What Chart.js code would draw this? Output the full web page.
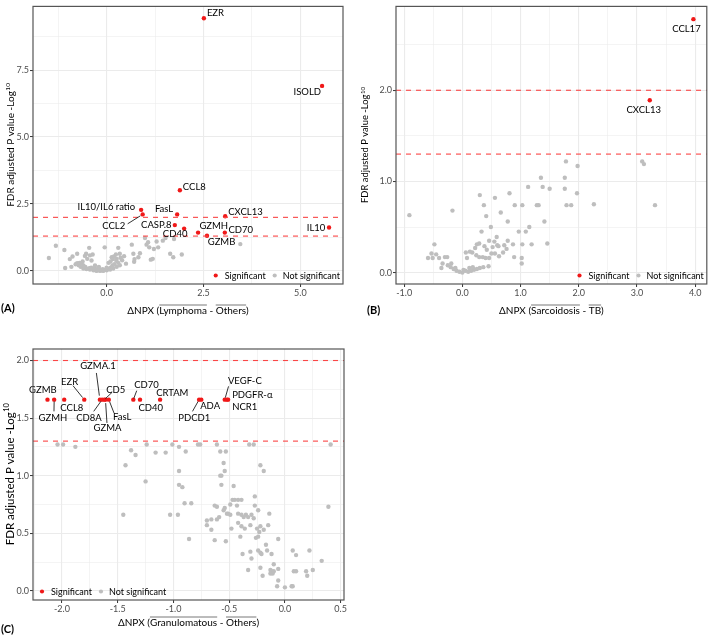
<!DOCTYPE html>
<html>
<head>
<meta charset="utf-8">
<script src="https://cdn.jsdelivr.net/npm/chart.js@4.4.1/dist/chart.umd.min.js"></script>
<style>
  body { margin: 0; background: #fff; width: 709px; height: 636px; position: relative; overflow: hidden; }
  canvas { position: absolute; }
  .tag { position: absolute; font: bold 11px Lato, sans-serif; color: #000; }
</style>
</head>
<body>
<canvas id="chartA" width="355" height="320" style="left:0;top:0"></canvas>
<canvas id="chartB" width="354" height="320" style="left:355px;top:0"></canvas>
<canvas id="chartC" width="355" height="316" style="left:0;top:320px"></canvas>
<div class="tag" style="left:1px;top:301px">(A)</div>
<div class="tag" style="left:367px;top:303px">(B)</div>
<div class="tag" style="left:1px;top:622px">(C)</div>
<script>
// (A) Lymphoma vs Others
const aSigNames = ['EZR', 'ISOLD', 'CCL8', 'IL10/IL6 ratio', 'CCL2', 'FasL', 'CXCL13', 'CASP.8', 'CD40', 'GZMH', 'GZMB', 'CD70', 'IL10'];
const aSigX = [2.51, 5.56, 1.89, 0.89, 0.93, 1.82, 3.06, 1.76, 2.00, 2.36, 2.59, 3.05, 5.74];
const aSigY = [9.44, 6.91, 3.01, 2.28, 2.11, 2.11, 2.04, 1.71, 1.58, 1.43, 1.31, 1.43, 1.62];
const aOtherX = [-1.49, -1.31, -1.09, -1.07, -0.95, -0.88, -0.91, -0.76, -0.76, -0.72, -0.67, -0.60, -0.56, -0.53, -0.50,
  -0.45, -0.43, -0.39, -0.36, -0.52, -0.43, -0.34, -0.26, -0.17, -0.09, 0.00, 0.09, 0.17, 0.26, 0.34, -0.05, 0.13, 0.16,
  0.19, 0.24, 0.26, 0.30, 0.34, 0.36, 0.50, 0.65, 0.69, 0.72, 0.71, 0.82, 0.86, 0.99, 1.03, 1.07, 1.10, 1.14, 1.19, 1.22,
  1.29, 1.33, 1.45, 1.52, 1.64, 1.72, 1.74, 1.94, 3.45, -0.60, -0.55, -0.45, -0.40, -0.35, -0.30, -0.25, -0.20, -0.15,
  -0.10, -0.05, 0.05, 0.10, 0.15, 0.20, 0.05, 0.10, -0.30, -0.20, 0.00, -0.70, -0.65, 0.30, 0.25, -0.80, -0.62, 0.40, 0.45];
const aOtherY = [0.48, 0.94, 0.78, 0.11, 0.44, 0.54, 0.15, 0.64, 0.29, 0.21, 0.15, 0.09, 0.56, 0.64, 0.45,
  0.86, 0.58, 0.39, 0.61, 0.07, 0.05, 0.02, 0.00, 0.00, 0.00, 0.02, 0.05, 0.09, 0.15, 0.21, 0.88, 0.51, 0.44,
  0.54, 0.61, 0.45, 0.86, 0.64, 0.49, 0.27, 0.98, 0.64, 0.44, 0.34, 0.51, 0.66, 1.23, 0.98, 1.07, 0.88, 0.42, 0.45, 0.82,
  1.10, 0.88, 1.13, 1.23, 0.64, 0.51, 1.19, 0.61, 1.00, 0.20, 0.15, 0.10, 0.12, 0.08, 0.10, 0.05, 0.08, 0.04,
  0.06, 0.03, 0.07, 0.12, 0.20, 0.25, 0.30, 0.35, 0.20, 0.15, 0.12, 0.30, 0.28, 0.30, 0.38, 0.25, 0.35, 0.40, 0.55];
const aXLabels = [0, 2.5, 5];
const aXGrid = [-1.25, 0, 1.25, 2.5, 3.75, 5];
const aYLabels = [0, 2.5, 5, 7.5];
const aYGrid = [0, 1.25, 2.5, 3.75, 5, 6.25, 7.5, 8.75];

// (B) Sarcoidosis vs TB
const bSigNames = ['CCL17', 'CXCL13'];
const bSigX = [3.97, 3.22];
const bSigY = [2.78, 1.89];
const bOtherX = [-0.91, -0.17, 0.30, 0.37, 0.41, 0.56, 0.66, 0.81, 0.78, 0.90, 1.03, 1.13, 1.28, 1.31, 1.35, 1.38, 1.41,
  1.50, 1.76, 1.76, 1.78, 1.79, 1.87, 1.97, 1.98, 2.26, 3.09, 3.12, 3.31, 0.49, 0.33, 0.59, 0.97, 1.09, 1.15, 1.19, 1.03,
  1.46, 0.87, 0.72, 0.76, 0.78, 0.89, 1.02, 1.02, 0.46, 0.55, 0.62, 0.25, 0.29, 0.38, 0.22, 0.24, 0.17, 0.13, 0.06, 0.08,
  0.29, 0.35, 0.46, 0.56, 0.63, 0.45, 0.36, 0.30, 0.25, 0.20, 0.15, 0.10, 0.05, 0.00, -0.05, -0.10, -0.15, -0.20, -0.25,
  -0.30, -0.26, -0.59, -0.51, -0.53, -0.48, -0.45, -0.40, -0.34, -0.19, -0.36, -0.12, 0.02, 0.12, 0.18, 0.40, 0.42, 0.52,
  0.50, 0.60, 0.70];
const bOtherY = [0.63, 0.68, 0.85, 0.74, 0.62, 0.82, 0.66, 0.87, 0.56, 0.74, 0.74, 0.94, 0.74, 0.74, 1.04, 0.94, 0.56,
  0.92, 0.92, 1.04, 1.22, 0.74, 0.74, 0.87, 1.17, 0.75, 1.22, 1.19, 0.74, 0.50, 0.45, 0.39, 0.45, 0.45, 0.50, 0.31, 0.31,
  0.32, 0.31, 0.30, 0.26, 0.35, 0.17, 0.16, 0.10, 0.35, 0.34, 0.29, 0.31, 0.32, 0.29, 0.27, 0.19, 0.22, 0.23, 0.22, 0.16,
  0.17, 0.17, 0.16, 0.21, 0.18, 0.07, 0.06, 0.05, 0.04, 0.03, 0.02, 0.01, 0.02, 0.00, 0.01, 0.02, 0.04, 0.06, 0.08,
  0.17, 0.17, 0.16, 0.16, 0.21, 0.31, 0.20, 0.16, 0.10, 0.10, 0.05, 0.05, 0.03, 0.05, 0.06, 0.16, 0.25, 0.28,
  0.21, 0.30, 0.22];
const bXLabels = [-1, 0, 1, 2, 3, 4];
const bXGrid = [-1, -0.5, 0, 0.5, 1, 1.5, 2, 2.5, 3, 3.5, 4];
const bYLabels = [0, 1, 2];
const bYGrid = [0, 0.5, 1, 1.5, 2, 2.5];

// (C) Granulomatous vs Others
const cSigNames = ['GZMB', 'GZMH', 'CCL8', 'EZR', 'GZMA.1', 'CD8A', 'CD5', 'GZMA', 'FasL', 'CD70', 'CD40', 'CRTAM',
  'PDCD1', 'ADA', 'VEGF-C', 'PDGFR-α', 'NCR1'];
const cSigX = [-2.13, -2.07, -1.98, -1.80, -1.66, -1.64, -1.62, -1.61, -1.58, -1.36, -1.30, -1.12, -0.77, -0.75, -0.54, -0.52, -0.51];
const cSigY = [1.66, 1.66, 1.66, 1.66, 1.66, 1.66, 1.66, 1.66, 1.66, 1.66, 1.66, 1.66, 1.66, 1.66, 1.66, 1.66, 1.66];
const cOtherX = [-2.04, -1.99, -1.88, -1.43, -1.45, -1.38, -1.34, -1.25, -1.24, -1.16, -1.07, -1.03, -0.96, -1.01, -0.95,
  -0.89, -0.95, -0.95, -0.92, -0.90, -0.84, -0.86, -0.78, -0.76, -0.61, -0.58, -0.53, -0.55, -0.54, -0.58, -0.57, -0.57,
  -0.46, -0.32, -0.28, -0.22, -0.19, -0.27, 0.39, 0.41, -0.70, -0.70, -0.66, -0.61, -0.59, -0.63, -0.61, -0.55, -0.52,
  -0.54, -0.49, -0.47, -0.45, -0.42, -0.39, -0.49, -0.48, -0.51, -0.43, -0.42, -0.39, -0.37, -0.35, -0.33, -0.30, -0.28,
  -0.27, -0.24, -0.31, -0.36, -0.39, -0.42, -0.40, -0.25, -0.23, -0.22, -0.19, -0.24, -0.26, -0.14, -0.15, -0.06, -0.63,
  -0.53, -0.66, -0.38, -0.31, -0.30, -0.33, -0.24, -0.22, -0.21, -0.17, -0.16, -0.12, -0.10, -0.13, -0.12, -0.10, -0.06,
  -0.13, -0.11, -0.22, -0.20, -0.06, -0.07, 0.00, 0.07, 0.07, 0.10, 0.22, 0.19, 0.20, 0.25, 0.33, 0.08, 0.10, 0.06];
const cOtherY = [1.27, 1.27, 1.25, 1.09, 0.66, 1.22, 1.18, 0.95, 1.27, 1.20, 1.20, 0.66, 0.66, 1.27, 1.25,
  1.21, 1.04, 0.92, 0.90, 0.76, 0.76, 0.45, 1.27, 1.27, 1.27, 1.21, 1.21, 1.11, 1.04, 1.00, 1.00, 0.92,
  0.91, 1.27, 1.27, 1.09, 1.04, 0.82, 0.73, 1.27, 0.61, 0.57, 0.62, 0.62, 0.64, 0.74, 0.73, 0.70, 0.67,
  0.72, 0.75, 0.79, 0.79, 0.79, 0.79, 0.66, 0.54, 0.67, 0.74, 0.67, 0.66, 0.64, 0.66, 0.64, 0.66, 0.63,
  0.74, 0.70, 0.57, 0.54, 0.56, 0.59, 0.47, 0.54, 0.51, 0.56, 0.53, 0.47, 0.46, 0.67, 0.57, 0.45, 0.44,
  0.43, 0.53, 0.32, 0.34, 0.28, 0.18, 0.35, 0.33, 0.32, 0.40, 0.35, 0.32, 0.23, 0.18, 0.17, 0.17, 0.19,
  0.15, 0.15, 0.20, 0.13, 0.09, 0.04, 0.03, 0.04, 0.35, 0.31, 0.35, 0.17, 0.13, 0.18, 0.26, 0.17, 0.17, 0.04];
const cXLabels = [-2, -1.5, -1, -0.5, 0, 0.5];
const cXGrid = [-2.25, -2, -1.75, -1.5, -1.25, -1, -0.75, -0.5, -0.25, 0, 0.25, 0.5];
const cYLabels = [0, 0.5, 1, 1.5, 2];
const cYGrid = [0, 0.25, 0.5, 0.75, 1, 1.25, 1.5, 1.75, 2];

// significance cut-offs (-log10 of 0.01 and 0.05)
const cutoffs = [2, 1.3];
const legendLabels = ['Significant', 'Not significant'];

const RED = '#f01818';
const GREY = '#bebebe';
const CUT = 'rgb(250,70,70)';

// where each gene label sits, relative to its point: [dx, dy, align, leaderDx, leaderDy]
const placeA = {
  'EZR': [3, -5, 'left'], 'ISOLD': [-1, 6.5, 'right'], 'CCL8': [3, -3.5, 'left'],
  'IL10/IL6 ratio': [-6, -3, 'right'], 'CCL2': [-17.5, 11.7, 'right', -15, 9.4],
  'FasL': [-4, -5.6, 'right'], 'CXCL13': [3, -4.6, 'left'], 'CASP.8': [-3.3, 0, 'right'],
  'CD40': [3.3, 5.6, 'right'], 'GZMH': [1.3, -6.7, 'left'], 'GZMB': [0.7, 6.3, 'left'],
  'CD70': [3.6, -3, 'left'], 'IL10': [-3.7, 0, 'right']
};
const placeB = { 'CCL17': [-7, 10, 'center'], 'CXCL13': [-6, 10, 'center'] };
const placeC = {
  'GZMB': [-4.6, -9.3, 'center'], 'GZMH': [-1.2, 18.3, 'center', -0.2, 11.7],
  'CCL8': [7.6, 8.7, 'center'], 'EZR': [-14.6, -17.3, 'center', -11.3, -14],
  'GZMA.1': [-1.9, -33.3, 'center', -3.5, -26.7], 'CD8A': [-13.2, 18.3, 'center', -8.4, 11.7],
  'CD5': [11.4, -9.3, 'center', 7.7, -7.3], 'GZMA': [2, 28, 'center', 1.5, 23.3],
  'FasL': [13.4, 17.3, 'center', 5.2, 13.3], 'CD70': [13.1, -15, 'center', 3.4, -9],
  'CD40': [10.7, 8.7, 'center'], 'CRTAM': [12.2, -6.7, 'center'],
  'PDCD1': [-4.8, 18.3, 'center', -6.6, 11.7], 'ADA': [8.8, 6.7, 'center'],
  'VEGF-C': [20.1, -19, 'center', 3.8, -13.3], 'PDGFR-α': [5.2, -5, 'left'], 'NCR1': [4.1, 7.3, 'left']
};

function pts(xs, ys, names) {
  return xs.map((x, i) => ({ x: x, y: ys[i], name: names ? names[i] : null }));
}

function near(list, v) {
  return list.some(t => Math.abs(t - v) < 1e-9);
}

function axis(min, max, grid, labels, size) {
  return {
    type: 'linear', min: min, max: max,
    afterBuildTicks: s => { s.ticks = grid.map(v => ({ value: v })); },
    afterFit: s => { if (s.isHorizontal()) s.height = size; else s.width = size; },
    ticks: {
      autoSkip: false, maxRotation: 0, padding: 1, color: '#4d4d4d',
      font: { family: 'Lato', size: 9 },
      callback: v => near(labels, v) ? v.toFixed(1) : ''
    },
    grid: {
      color: '#ebebeb', tickLength: 3, tickWidth: 1,
      lineWidth: c => near(labels, c.tick.value) ? 1.1 : 0.55,
      tickColor: c => near(labels, c.tick.value) ? '#333' : 'rgba(0,0,0,0)'
    },
    border: { display: false }
  };
}

// cut-off lines, gene labels, frame, inside legend and axis titles
const volcanoDecor = {
  id: 'volcanoDecor',
  afterDatasetsDraw(chart, args, o) {
    const { ctx, chartArea: a } = chart;
    const y = chart.scales.y;
    ctx.save();

    // dashed cut-off lines
    ctx.strokeStyle = CUT;
    ctx.lineWidth = 1.1;
    ctx.setLineDash([5, 5]);
    cutoffs.forEach(v => {
      const py = y.getPixelForValue(v);
      ctx.beginPath();
      ctx.moveTo(a.left, py);
      ctx.lineTo(a.right, py);
      ctx.stroke();
    });
    ctx.setLineDash([]);

    // gene labels
    ctx.font = '9.5px Lato';
    ctx.fillStyle = '#000';
    ctx.strokeStyle = '#000';
    ctx.lineWidth = 0.8;
    ctx.textBaseline = 'middle';
    const sig = chart.data.datasets[0].data;
    chart.getDatasetMeta(0).data.forEach((el, i) => {
      const s = o.place[sig[i].name];
      if (!s) return;
      if (s.length > 3) {
        ctx.beginPath();
        ctx.moveTo(el.x + s[3], el.y + s[4]);
        ctx.lineTo(el.x + s[3] * 0.15, el.y + s[4] * 0.15);
        ctx.stroke();
      }
      ctx.textAlign = s[2];
      ctx.fillText(sig[i].name, el.x + s[0], el.y + s[1]);
    });

    // panel frame
    ctx.strokeStyle = '#555';
    ctx.lineWidth = 1.2;
    ctx.strokeRect(a.left, a.top, a.right - a.left, a.bottom - a.top);

    // legend inside the panel
    ctx.font = '9px Lato';
    ctx.textAlign = 'left';
    const w1 = ctx.measureText(legendLabels[0]).width;
    const w2 = ctx.measureText(legendLabels[1]).width;
    let lx = o.legendLeft ? a.left + 9 : a.right - 3 - w2 - 8 - 9 - w1 - 9;
    const ly = a.bottom - 8.5;
    [[RED, legendLabels[0], w1, 9], [GREY, legendLabels[1], w2, 8]].forEach(k => {
      ctx.fillStyle = k[0];
      ctx.beginPath();
      ctx.arc(lx, ly, 2.1, 0, Math.PI * 2);
      ctx.fill();
      ctx.fillStyle = '#000';
      ctx.fillText(k[1], lx + k[3], ly + 0.5);
      lx += k[3] + k[2] + 9;
    });

    // x title with overlined group names
    ctx.font = '10px Lato';
    ctx.textBaseline = 'alphabetic';
    const parts = o.xTitle;
    const ws = parts.map(p => ctx.measureText(p[0]).width);
    let tx = (a.left + a.right) / 2 - ws.reduce((s, w) => s + w, 0) / 2;
    const by = a.bottom + o.titleGap;
    ctx.lineWidth = 0.8;
    parts.forEach((p, i) => {
      ctx.fillText(p[0], tx, by);
      if (p[1]) {
        ctx.beginPath();
        ctx.moveTo(tx, by - 8.5);
        ctx.lineTo(tx + ws[i], by - 8.5);
        ctx.stroke();
      }
      tx += ws[i];
    });

    // y title with superscript
    const fs = o.yTitleSize;
    ctx.translate(10, (a.top + a.bottom) / 2);
    ctx.rotate(-Math.PI / 2);
    const t1 = 'FDR adjusted P value -Log';
    ctx.font = fs + 'px Lato';
    const wa = ctx.measureText(t1).width;
    ctx.font = (fs * 0.65) + 'px Lato';
    const wb = ctx.measureText('10').width;
    const sx = -(wa + wb) / 2;
    ctx.fillText('10', sx + wa + 0.5, -fs * 0.05);
    ctx.font = fs + 'px Lato';
    ctx.fillText(t1, sx, fs * 0.35);

    ctx.restore();
  }
};

function volcano(id, sig, other, xs, ys, pad, decor) {
  return new Chart(document.getElementById(id), {
    type: 'scatter',
    data: {
      datasets: [
        { label: legendLabels[0], data: sig, pointRadius: 2.2, pointHoverRadius: 2.2, pointBackgroundColor: RED, pointBorderWidth: 0 },
        { label: legendLabels[1], data: other, pointRadius: 2.2, pointHoverRadius: 2.2, pointBackgroundColor: GREY, pointBorderWidth: 0 }
      ]
    },
    options: {
      responsive: false,
      animation: false,
      layout: { padding: pad },
      scales: { x: xs, y: ys },
      plugins: {
        legend: { display: false },
        tooltip: { enabled: false },
        volcanoDecor: decor
      }
    },
    plugins: [volcanoDecor]
  });
}

volcano('chartA', pts(aSigX, aSigY, aSigNames), pts(aOtherX, aOtherY),
  axis(-1.9, 6.1, aXGrid, aXLabels, 36), axis(-0.49, 9.88, aYGrid, aYLabels, 33),
  { top: 1, right: 12, left: 0, bottom: 0 },
  { place: placeA, legendLeft: false, titleGap: 29.5, yTitleSize: 10,
    xTitle: [['ΔNPX (', false], ['Lymphoma', true], [' - ', false], ['Others', true], [')', false]] });

volcano('chartB', pts(bSigX, bSigY, bSigNames), pts(bOtherX, bOtherY),
  axis(-1.14, 4.2, bXGrid, bXLabels, 36), axis(-0.125, 2.92, bYGrid, bYLabels, 41),
  { top: 1, right: 1, left: 0, bottom: 0 },
  { place: placeB, legendLeft: false, titleGap: 29.5, yTitleSize: 9.4,
    xTitle: [['ΔNPX (', false], ['Sarcoidosis', true], [' - ', false], ['TB', true], [')', false]] });

volcano('chartC', pts(cSigX, cSigY, cSigNames), pts(cOtherX, cOtherY),
  axis(-2.26, 0.53, cXGrid, cXLabels, 36), axis(-0.08, 2.10, cYGrid, cYLabels, 33),
  { top: 29, right: 11, left: 0, bottom: 0 },
  { place: placeC, legendLeft: true, titleGap: 25.5, yTitleSize: 11.5,
    xTitle: [['ΔNPX (', false], ['Granulomatous', true], [' - ', false], ['Others', true], [')', false]] });
</script>
</body>
</html>
